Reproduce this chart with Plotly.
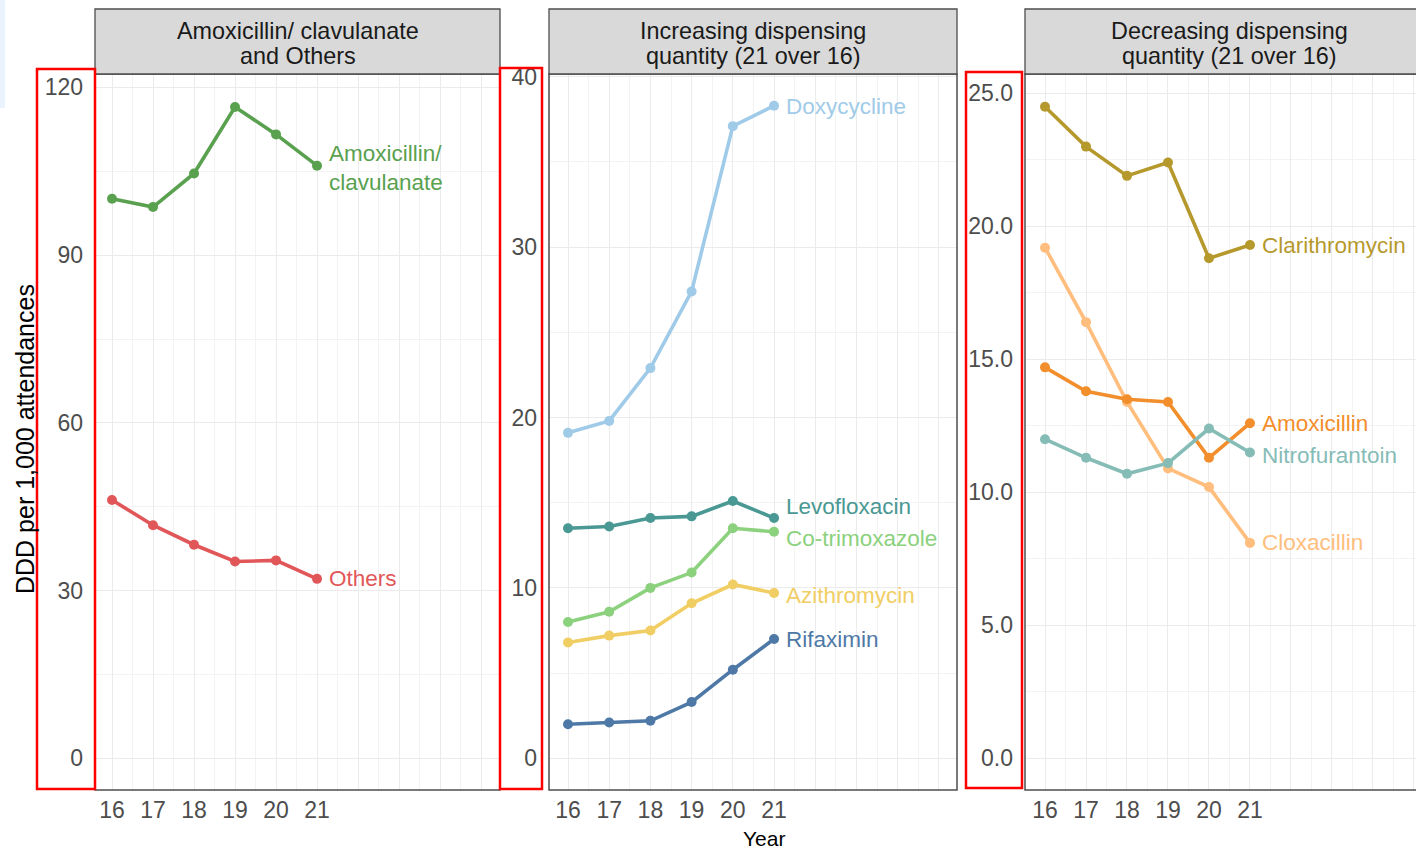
import plotly.graph_objects as go

W, H = 1416, 851

# ---- data -------------------------------------------------------------
years = [16, 17, 18, 19, 20, 21]
year_ticks = [16, 17, 18, 19, 20, 21, 22, 23, 24, 25]
year_tick_text = ["16", "17", "18", "19", "20", "21", "", "", "", ""]

amox_clav = [100.1, 98.6, 104.6, 116.5, 111.6, 106.0]
others = [46.2, 41.7, 38.2, 35.2, 35.4, 32.1]

doxycycline = [19.1, 19.8, 22.9, 27.4, 37.1, 38.3]
levofloxacin = [13.5, 13.6, 14.1, 14.2, 15.1, 14.1]
co_trimoxazole = [8.0, 8.6, 10.0, 10.9, 13.5, 13.3]
azithromycin = [6.8, 7.2, 7.5, 9.1, 10.2, 9.7]
rifaximin = [2.0, 2.1, 2.2, 3.3, 5.2, 7.0]

clarithromycin = [24.5, 23.0, 21.9, 22.4, 18.8, 19.3]
cloxacillin = [19.2, 16.4, 13.4, 10.9, 10.2, 8.1]
amoxicillin = [14.7, 13.8, 13.5, 13.4, 11.3, 12.6]
nitrofurantoin = [12.0, 11.3, 10.7, 11.1, 12.4, 11.5]

panel_titles = [
    ["Amoxicillin/ clavulanate", "and Others"],
    ["Increasing dispensing", "quantity (21 over 16)"],
    ["Decreasing dispensing", "quantity (21 over 16)"],
]

# series: (panel index, label, values, colour, label vertical nudge px)
series = [
    (1, "Amoxicillin/<br>clavulanate", amox_clav, "#59A14F", -2),
    (1, "Others", others, "#E15759", 0),
    (2, "Doxycycline", doxycycline, "#A0CBE8", -1),
    (2, "Levofloxacin", levofloxacin, "#499894", 12),
    (2, "Co-trimoxazole", co_trimoxazole, "#8CD17D", -7),
    (2, "Azithromycin", azithromycin, "#F1CE63", -2),
    (2, "Rifaximin", rifaximin, "#4E79A7", 0),
    (3, "Clarithromycin", clarithromycin, "#B6992D", 0),
    (3, "Cloxacillin", cloxacillin, "#FFBE7D", 0),
    (3, "Amoxicillin", amoxicillin, "#F28E2B", 0),
    (3, "Nitrofurantoin", nitrofurantoin, "#86BCB6", -3),
]

# ---- layout geometry (pixels) -----------------------------------------
panel_x = [(95, 500), (549, 957), (1025, 1416)]
panel_top, panel_bottom = 74, 790
strip_top = 9
x_ranges = [(15.585, 25.463), (15.539, 25.44), (15.512, 25.05)]
y_ranges = [(-5.67, 122.4), (-1.86, 40.16), (-1.19, 25.73)]
y_major = [30, 10, 5]
y_minor = [15, 5, 2.5]
y_fmt = ["d", "d", ".1f"]

FONT = "Arial, Liberation Sans, sans-serif"
TICK_COLOR = "#4D4D4D"
GRID_MAJOR = "#EBEBEB"
GRID_MINOR = "#F3F3F3"
LABEL_SIZE = 22.5


def px(x):
    return x / W


def py(y):
    return 1 - y / H


fig = go.Figure()
annotations = []

for p, label, vals, color, nudge in series:
    suffix = "" if p == 1 else str(p)
    fig.add_trace(go.Scatter(
        x=years, y=vals, mode="lines+markers",
        line=dict(color=color, width=3.6),
        marker=dict(color=color, size=10),
        xaxis="x" + suffix, yaxis="y" + suffix,
        showlegend=False, hoverinfo="skip",
    ))
    annotations.append(dict(
        x=years[-1], y=vals[-1], xref="x" + suffix, yref="y" + suffix,
        text=label, showarrow=False, xanchor="left", yanchor="middle",
        xshift=10, yshift=nudge, align="left",
        font=dict(family=FONT, size=LABEL_SIZE, color=color),
    ))

layout = dict(
    width=W, height=H,
    margin=dict(l=0, r=0, t=0, b=0, autoexpand=False),
    paper_bgcolor="white", plot_bgcolor="white",
    font=dict(family=FONT),
)

shapes = []

for i in range(3):
    suffix = "" if i == 0 else str(i + 1)
    x0, x1 = panel_x[i]
    x1_frame = x1 if i < 2 else x1 + 20
    layout["xaxis" + suffix] = dict(
        domain=[px(x0), px(x1)], range=list(x_ranges[i]),
        anchor="y" + suffix, automargin=False,
        tickmode="array", tickvals=year_ticks, ticktext=year_tick_text,
        showgrid=True, gridcolor=GRID_MAJOR, gridwidth=1.3,
        minor=dict(dtick=0.5, tick0=15.5, showgrid=True,
                   gridcolor=GRID_MINOR, gridwidth=1),
        zeroline=False, showline=False, ticks="",
        ticklabelstandoff=4,
        tickfont=dict(family=FONT, size=23, color=TICK_COLOR),
    )
    layout["yaxis" + suffix] = dict(
        domain=[py(panel_bottom), py(panel_top)], range=list(y_ranges[i]),
        anchor="x" + suffix, automargin=False,
        tick0=0, dtick=y_major[i], tickformat=y_fmt[i],
        showgrid=True, gridcolor=GRID_MAJOR, gridwidth=1.3,
        minor=dict(dtick=y_minor[i], tick0=0, showgrid=True,
                   gridcolor=GRID_MINOR, gridwidth=1),
        zeroline=False, showline=False, ticks="",
        ticklabelstandoff=11,
        tickfont=dict(family=FONT, size=23, color=TICK_COLOR),
    )
    # panel frame
    shapes.append(dict(
        type="rect", xref="paper", yref="paper",
        x0=px(x0), x1=px(x1_frame),
        y0=py(panel_bottom), y1=py(panel_top),
        line=dict(color="#4D4D4D", width=1.5), fillcolor="rgba(0,0,0,0)",
        layer="above",
    ))
    # facet strip
    shapes.append(dict(
        type="rect", xref="paper", yref="paper",
        x0=px(x0), x1=px(x1_frame),
        y0=py(panel_top), y1=py(strip_top),
        line=dict(color="#4D4D4D", width=1.3), fillcolor="#D9D9D9",
    ))
    cx = px((x0 + (x1 if i < 2 else 1433)) / 2)
    for line, ly in zip(panel_titles[i], (31, 56)):
        annotations.append(dict(
            x=cx, y=py(ly), xref="paper", yref="paper", text=line,
            showarrow=False, xanchor="center", yanchor="middle",
            font=dict(family=FONT, size=23.4, color="#1A1A1A"),
        ))

# highlighted y-axis label columns
for (a, b, t, bt) in [(37, 95, 69, 789), (500, 542, 68, 789), (966, 1022, 72, 788)]:
    shapes.append(dict(
        type="rect", xref="paper", yref="paper",
        x0=px(a), x1=px(b), y0=py(bt), y1=py(t),
        line=dict(color="#FF0000", width=2.5), fillcolor="rgba(0,0,0,0)",
        layer="above",
    ))

# faint tint at the top-left edge
shapes.append(dict(
    type="rect", xref="paper", yref="paper",
    x0=0, x1=px(5), y0=py(108), y1=1,
    line=dict(width=0), fillcolor="#EAF3FD", layer="below",
))

annotations.append(dict(
    x=px(25), y=py(439), xref="paper", yref="paper",
    text="DDD per 1,000 attendances", textangle=-90, showarrow=False,
    xanchor="center", yanchor="middle",
    font=dict(family=FONT, size=25, color="black"),
))
annotations.append(dict(
    x=px(764), y=py(838), xref="paper", yref="paper",
    text="Year", showarrow=False, xanchor="center", yanchor="middle",
    font=dict(family=FONT, size=21, color="black"),
))

layout["shapes"] = shapes
layout["annotations"] = annotations
fig.update_layout(**layout)

fig.write_html("out.html")
